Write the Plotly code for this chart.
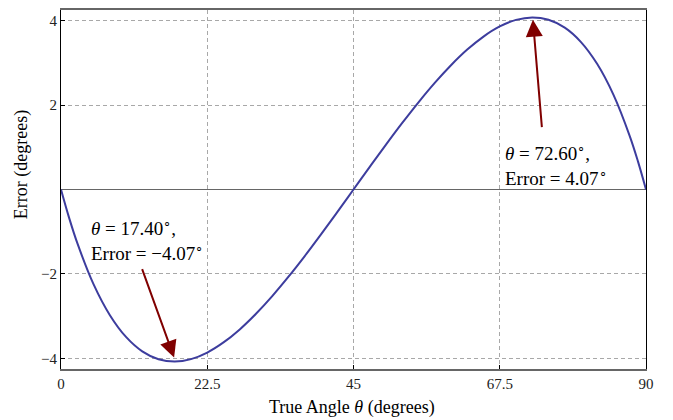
import plotly.graph_objects as go

# True angle (degrees) and error (degrees)
theta = [0, 1.25, 2.5, 5, 7.5, 10, 12.5, 15, 17.5, 20, 22.5, 25, 27.5, 30, 32.5,
         35, 37.5, 40, 42.5, 45, 47.5, 50, 52.5, 55, 57.5, 60, 62.5, 65, 67.5,
         70, 72.5, 75, 77.5, 80, 82.5, 85, 87.5, 88.75, 90]
error = [0, -0.672, -1.265, -2.241, -2.970, -3.491, -3.832, -4.019, -4.075, -4.016,
         -3.860, -3.621, -3.312, -2.942, -2.524, -2.065, -1.576, -1.063, -0.535, 0,
         0.535, 1.063, 1.576, 2.065, 2.524, 2.942, 3.312, 3.621, 3.860, 4.016,
         4.075, 4.019, 3.832, 3.491, 2.970, 2.241, 1.265, 0.672, 0]

x_tickvals = [0, 22.5, 45, 67.5, 90]
x_ticktext = ["0", "22.5", "45", "67.5", "90"]
y_tickvals = [-4, -2, 2, 4]
y_ticktext = ["\u22124", "\u22122", "2", "4"]

min_theta, min_err = 17.40, -4.07
max_theta, max_err = 72.60, 4.07

SERIF = "Liberation Serif, Times New Roman, serif"
ARROW = "#800000"

# page body has an 8px margin: figure is laid out so the plot area lands at
# x 61..646, y 7..369 of the window
W, H = 665, 412
ML, MR, MT, MB = 53, 27, 0, 51
PW, PH = W - ML - MR, H - MT - MB


def px_to_paper(sx, sy):
    fx, fy = sx - 8, sy - 8
    return (fx - ML) / PW, 1 - (fy - MT) / PH


fig = go.Figure()
fig.add_trace(go.Scatter(
    x=theta, y=error, mode="lines", line=dict(color="#3d3d9e", width=2, shape="spline"),
    hoverinfo="skip", showlegend=False))

annots = []
annots.append(dict(x=min_theta, y=-3.98, ax=12.4, ay=-1.85, xref="x", yref="y",
                   axref="x", ayref="y", showarrow=True, arrowhead=2, arrowsize=1.7,
                   arrowwidth=2, arrowcolor=ARROW, text=""))
annots.append(dict(x=max_theta, y=4.02, ax=74.0, ay=1.44, xref="x", yref="y",
                   axref="x", ayref="y", showarrow=True, arrowhead=2, arrowsize=1.7,
                   arrowwidth=2, arrowcolor=ARROW, text=""))
lab_font = dict(family=SERIF, size=19, color="black")
annots.append(dict(x=4.3, y=-0.886, xref="x", yref="y", xanchor="left", yanchor="middle",
                   showarrow=False, font=lab_font,
                   text=f"<i>θ</i> = {min_theta:.2f}<sup>∘</sup>,"))
annots.append(dict(x=4.3, y=-1.474, xref="x", yref="y", xanchor="left", yanchor="middle",
                   showarrow=False, font=lab_font,
                   text=f"Error = \u2212{abs(min_err):.2f}<sup>∘</sup>"))
annots.append(dict(x=67.95, y=0.877, xref="x", yref="y", xanchor="left", yanchor="middle",
                   showarrow=False, font=lab_font,
                   text=f"<i>θ</i> = {max_theta:.2f}<sup>∘</sup>,"))
annots.append(dict(x=67.95, y=0.289, xref="x", yref="y", xanchor="left", yanchor="middle",
                   showarrow=False, font=lab_font,
                   text=f"Error = {max_err:.2f}<sup>∘</sup>"))
tx, ty = px_to_paper(352, 408)
annots.append(dict(x=tx, y=ty, xref="paper", yref="paper",
                   xanchor="center", yanchor="middle", showarrow=False,
                   font=dict(family=SERIF, size=18, color="black"),
                   text="True Angle <i>θ</i> (degrees)"))
yx, yy = px_to_paper(21, 163)
annots.append(dict(x=yx, y=yy, xref="paper", yref="paper", xanchor="center",
                   yanchor="middle", showarrow=False, textangle=-90,
                   font=dict(family=SERIF, size=18, color="black"),
                   text="Error (degrees)"))

fig.update_layout(
    width=W, height=H,
    margin=dict(l=ML, r=MR, t=MT, b=MB),
    paper_bgcolor="white", plot_bgcolor="white",
    annotations=annots,
    font=dict(family=SERIF, size=15, color="black"),
)
fig.update_xaxes(
    range=[0, 90], tickvals=x_tickvals, ticktext=x_ticktext,
    showgrid=True, gridcolor="#a8a8a8", griddash="4px,3px", gridwidth=1,
    showline=True, linecolor="#666666", linewidth=1.5, mirror=True,
    ticks="inside", ticklen=4, tickcolor="black", zeroline=False,
    tickfont=dict(family=SERIF, size=15, color="#222"),
)
fig.update_yaxes(
    range=[-4.25, 4.25], tickvals=y_tickvals, ticktext=y_ticktext,
    showgrid=True, gridcolor="#a8a8a8", griddash="4px,3px", gridwidth=1,
    showline=True, linecolor="black", linewidth=1, mirror=True,
    ticks="inside", ticklen=4, tickcolor="black",
    zeroline=True, zerolinecolor="#666666", zerolinewidth=1.2,
    tickfont=dict(family=SERIF, size=15, color="#222"),
)

fig.write_html("out.html")
